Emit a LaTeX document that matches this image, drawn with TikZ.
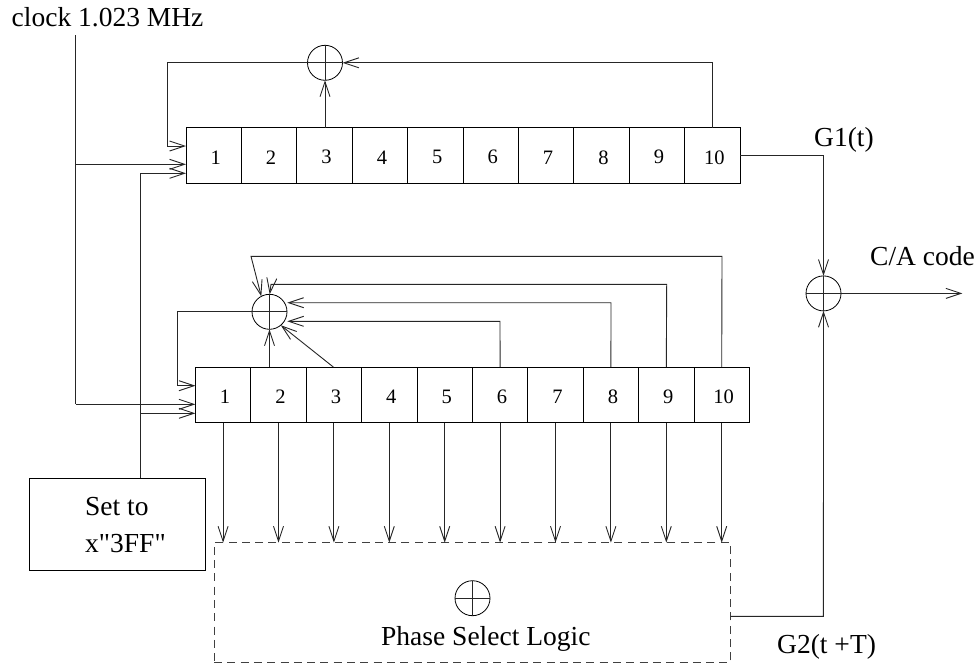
\documentclass[tikz,border=0pt]{standalone}
\usepackage{fontspec}
\setmainfont{Liberation Serif}
\newfontfamily\plainserif{Liberation Serif}
\usetikzlibrary{arrows.meta,calc}
\tikzset{
 x=1pt,y=-1pt,
 wire/.style={draw=black!85,line width=0.9pt},
 arr/.style={wire,-{Straight Barb[length=15pt,width=10pt,line width=0.9pt]}},
 cell/.style={draw=black,line width=0.9pt,minimum width=55.4pt,minimum height=55.5pt,inner sep=0pt,outer sep=0pt},
 digit/.style={inner sep=0pt,font=\fontsize{20.5}{20.5}\selectfont},
 xorc/.style={circle,draw=black,line width=0.8pt,minimum size=35pt,inner sep=0pt,outer sep=0pt},
 lab/.style={inner sep=0pt,font=\fontsize{27.5}{27.5}\selectfont\plainserif,anchor=base west},
 pbox/.style={draw=black,line width=0.9pt,inner sep=0pt,outer sep=0pt},
}
\begin{document}
\begin{tikzpicture}
\useasboundingbox (0,0) rectangle (979,664);
% registers
\foreach \i in {1,...,10}{
 \node[cell] (a\i) at ({186+55.4*(\i-0.5)},155.3) {};
 \node[cell] (b\i) at ({195.4+55.4*(\i-0.5)},394.9) {};
 \node[digit] (ta\i) at ($(a\i.center)+(2,2)$) {\i};
 \node[digit] (tb\i) at ($(b\i.center)+(2,2)$) {\i};
}
% xors
\node[xorc] (xa) at (325,62.8) {};
\node[xorc] (xb) at (269.5,311.8) {};
\node[xorc] (xc) at (823.5,293.4) {};
\node[xorc] (xd) at (472.5,598.2) {};
\foreach \n in {xa,xb,xc,xd}{
 \draw[wire] (\n.north)--(\n.south);
 \draw[wire] (\n.west)--(\n.east);
}
% labels
\node[lab] (tclock) at (11.5,26) {clock 1.023 MHz};
\node[lab] (tg1) at (814,146) {G1(t)};
\node[lab] (tca) at (870,265.7) {C/A code};
\node[lab] (tg2) at (777,653.5) {G2(t +T)};
\node[lab] (tps) at (381,645) {Phase Select Logic};
% boxes
\node[pbox,minimum width=175.7pt,minimum height=92pt,anchor=north west] (setb) at (29.3,478.3) {};
\node[lab] (ts1) at (85,515) {Set to};
\node[lab] (ts2) at (85,552.7) {x"3FF"};
\node[pbox,draw=black!75,line width=1pt,dash pattern=on 8pt off 5.3pt,minimum width=516.7pt,minimum height=119.6pt,anchor=north west] (ps) at (214,542.7) {};
% clock
\coordinate (c0) at (75.7,35);
\coordinate (c1) at (75.7,164.3);
\coordinate (c2) at (75.7,404.3);
\draw[wire] (c0)--(c2);
\draw[arr] (c1)--(c1-|a1.west);
\draw[arr] (c2)--(c2-|b1.west);
% set
\coordinate (s0) at (140,173.3);
\coordinate (s1) at (140,413.3);
\draw[wire] (s0|-setb.north)--(s0);
\draw[arr] (s0)--(s0-|a1.west);
\draw[arr] (s1)--(s1-|b1.west);
% top feedback
\coordinate (fa) at (167.7,146);
\draw[arr] (xa.west)--(fa|-xa)--(fa)--(fa-|a1.west);
\draw[arr] (a3.north-|xa)--(xa.south);
\coordinate (ra) at (712.7,62.8);
\draw[arr] (a10.north-|ra)--(ra)--(xa.east);
% top output
\coordinate (oa) at (823.5,155);
\draw[arr] (oa-|a10.east)--(oa)--(xc.north);
% out
\coordinate (ca) at (962.3,293.4);
\draw[arr] (xc.east)--(ca);
% bottom feedback
\coordinate (fb) at (177,311.8);
\coordinate (fc) at (177,385.7);
\draw[arr] (xb.west)--(fb)--(fc)--(fc-|b1.west);
\draw[arr] (b2.north-|xb)--(xb.south);
\coordinate (b3t) at (333.3,367);
\draw[arr] (b3t)--(xb.-50);
\coordinate (h6) at (500,321.3);
\coordinate (h8) at (611,302.7);
\coordinate (h9) at (666.7,284.3);
\coordinate (h10) at (722,256.3);
\draw[arr] (b6.north)--(h6)--(287.3,321.3);
\draw[arr] (b8.north)--(h8)--(287.3,302.7);
\draw[arr] (b9.north)--(h9)--(271,284.3)--(269.7,294.3);
\draw[arr] (b10.north)--(h10)--(251,256.3)--(xb.118);
% down arrows
\foreach \i in {1,...,10}{
 \coordinate (d\i) at ($(b\i.south)+(0,120)$);
 \draw[arr] (b\i.south)--(d\i);
}
% phase output
\coordinate (g0) at (730.7,616.3);
\coordinate (g1) at (823.4,616.3);
\draw[arr] (g0)--(g1)--(xc.south);
\end{tikzpicture}
\end{document}
